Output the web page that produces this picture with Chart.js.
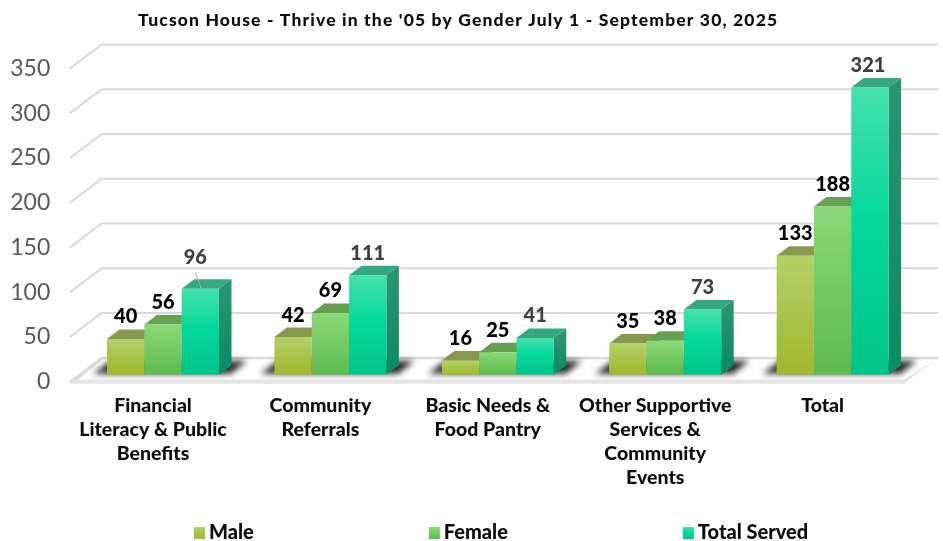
<!DOCTYPE html>
<html>
<head>
<meta charset="utf-8">
<title>Tucson House</title>
<script src="https://cdn.jsdelivr.net/npm/chart.js@4"></script>
<style>
html, body { margin: 0; padding: 0; background: #fff; }
canvas { display: block; }
</style>
</head>
<body>
<canvas id="chart" width="943" height="541"></canvas>
<script>
var titleText = "Tucson House - Thrive in the '05 by Gender July 1 - September 30, 2025";
var categories = [
  ["Financial", "Literacy & Public", "Benefits"],
  ["Community", "Referrals"],
  ["Basic Needs &", "Food Pantry"],
  ["Other Supportive", "Services &", "Community", "Events"],
  ["Total"]
];
var seriesNames = ["Male", "Female", "Total Served"];
var male = [40, 42, 16, 35, 133];
var female = [56, 69, 25, 38, 188];
var totalServed = [96, 111, 41, 73, 321];

var FONT = "Lato";
// light, dark stops for the front face, then top and side colours
var faces = [
  { hi: "#b4cf68", lo: "#9fb82c", top: "#88994e", side: "#6f8320" },
  { hi: "#8cd878", lo: "#5cb94f", top: "#67a052", side: "#478a3c" },
  { hi: "#45e0ab", mid: "#05d89c", lo: "#00c48c", top: "#35a882", side: "#0a8a63" }
];
// labels that sit off the bar centre in the original: dataset:index -> [dx, dy]
var labelNudge = { "2:0": [-5, -9], "2:4": [-2, 0] };
var leaderLabels = { "2:0": 1 };
var greyLabels = { "2:0": 1, "2:1": 1, "2:2": 1, "2:3": 1, "2:4": 1 };

var DEPTH_X = 12.5, DEPTH_Y = 9.5;   // bar extrusion
var WALL_X = 32, WALL_FRONT = 7, WALL_BACK = 17;

function frontGradient(c, face, top, bottom) {
  var g = c.createLinearGradient(0, top, 0, bottom);
  g.addColorStop(0, face.hi);
  if (face.mid) g.addColorStop(0.45, face.mid);
  g.addColorStop(1, face.lo);
  return g;
}

function barColor(i) {
  return function (ctx) {
    var y = ctx.chart.scales.y;
    if (!y || ctx.parsed === undefined || !ctx.chart.chartArea) return faces[i].lo;
    return frontGradient(ctx.chart.ctx, faces[i], y.getPixelForValue(ctx.parsed.y), y.getPixelForValue(0));
  };
}

var scene3d = {
  id: "scene3d",
  afterLayout: function (chart) {
    // the original title is tracked out wider than any installed font
    var t = chart.titleBlock;
    if (t.spaced) return;
    t.spaced = true;
    var drawTitle = t.draw;
    t.draw = function () {
      chart.ctx.letterSpacing = "1.15px";
      drawTitle.apply(t, arguments);
      chart.ctx.letterSpacing = "0px";
    };
  },
  beforeDatasetsDraw: function (chart) {
    var c = chart.ctx, y = chart.scales.y, area = chart.chartArea;
    var x0 = area.left - 9.5, x1 = x0 + WALL_X, xEnd = 938, y0 = y.getPixelForValue(0);

    // walls
    c.save();
    c.strokeStyle = "#d9d9d9";
    c.lineWidth = 2;
    y.ticks.forEach(function (t) {
      var p = y.getPixelForValue(t.value);
      c.beginPath();
      c.moveTo(x0, p + WALL_FRONT);
      c.lineTo(x1, p - WALL_BACK);
      c.lineTo(xEnd, p - WALL_BACK);
      c.stroke();
    });

    // floor edge
    c.fillStyle = "#dcdcdc";
    c.beginPath();
    c.moveTo(x0, y0 + WALL_FRONT - 1);
    c.lineTo(x0 + 837, y0 + WALL_FRONT - 1);
    c.lineTo(xEnd, y0 - WALL_BACK);
    c.lineTo(x1, y0 - WALL_BACK);
    c.closePath();
    c.fill();
    c.fillStyle = "#ffffff";
    c.beginPath();
    c.moveTo(x0 + 8, y0 + WALL_FRONT - 2);
    c.lineTo(x0 + 835, y0 + WALL_FRONT - 2);
    c.lineTo(xEnd - 2, y0 - WALL_BACK + 1.5);
    c.lineTo(x1 + 1, y0 - WALL_BACK + 1.5);
    c.closePath();
    c.fill();
    c.fillStyle = "#e4e4e4";
    c.fillRect(x0, y0 + WALL_FRONT - 1, 837, 3);

    // soft shadow under each group
    var last = chart.getDatasetMeta(2).data, firstBars = chart.getDatasetMeta(0).data;
    c.save();
    c.filter = "blur(3px)";
    c.fillStyle = "#262626";
    last.forEach(function (bar, i) {
      var l = firstBars[i].x - firstBars[i].width / 2, r = bar.x + bar.width / 2;
      c.beginPath();
      c.moveTo(l - 14, y0 - 1);
      c.lineTo(r + 12, y0 - 1);
      c.lineTo(r + 28, y0 - 14);
      c.lineTo(l + 4, y0 - 14);
      c.closePath();
      c.fill();
    });
    c.restore();

    // bar tops and sides
    chart.data.datasets.forEach(function (ds, d) {
      chart.getDatasetMeta(d).data.forEach(function (bar) {
        var l = bar.x - bar.width / 2, r = bar.x + bar.width / 2;
        c.fillStyle = faces[d].top;
        c.beginPath();
        c.moveTo(l, bar.y);
        c.lineTo(l + DEPTH_X, bar.y - DEPTH_Y);
        c.lineTo(r + DEPTH_X, bar.y - DEPTH_Y);
        c.lineTo(r, bar.y);
        c.closePath();
        c.fill();
        var s = c.createLinearGradient(0, bar.y, 0, y0);
        s.addColorStop(0, d === 2 ? "#2a9471" : faces[d].side);
        s.addColorStop(1, faces[d].side);
        c.fillStyle = s;
        c.beginPath();
        c.moveTo(r, bar.y);
        c.lineTo(r + DEPTH_X, bar.y - DEPTH_Y);
        c.lineTo(r + DEPTH_X, y0 - DEPTH_Y);
        c.lineTo(r, y0);
        c.closePath();
        c.fill();
      });
    });
    c.restore();
  },
  afterDatasetsDraw: function (chart) {
    var c = chart.ctx;
    c.save();
    c.font = "900 20px " + FONT;
    c.textAlign = "center";
    c.textBaseline = "middle";
    chart.data.datasets.forEach(function (ds, d) {
      chart.getDatasetMeta(d).data.forEach(function (bar, i) {
        var key = d + ":" + i, n = labelNudge[key] || [0, 0];
        var lx = bar.x + n[0], ly = bar.y - 22 + n[1];
        if (leaderLabels[key]) {
          // leader line from the label down to the bar top
          c.strokeStyle = "#a6a6a6";
          c.lineWidth = 1;
          c.beginPath();
          c.moveTo(lx, ly + 15);
          c.lineTo(lx + 6, bar.y);
          c.stroke();
        }
        c.fillStyle = greyLabels[key] ? "#404040" : "#000000";
        c.fillText(ds.data[i], lx, ly);
      });
    });

    // legend, spread wider than the built-in one allows
    var x = 194, h = 533;
    c.font = "900 20px " + FONT;
    c.textAlign = "left";
    seriesNames.forEach(function (name, i) {
      c.fillStyle = frontGradient(c, faces[i], h - 6, h + 6);
      c.fillRect(x, h - 6, 11, 12);
      c.fillStyle = "#0d0d0d";
      c.fillText(name, x + 15, h);
      x += 15 + c.measureText(name).width + 175;
    });
    c.restore();
  }
};

new Chart(document.getElementById("chart"), {
  type: "bar",
  plugins: [scene3d],
  data: {
    labels: categories,
    datasets: [
      { label: seriesNames[0], data: male, backgroundColor: barColor(0) },
      { label: seriesNames[1], data: female, backgroundColor: barColor(1) },
      { label: seriesNames[2], data: totalServed, backgroundColor: barColor(2) }
    ]
  },
  options: {
    responsive: false,
    animation: false,
    layout: { padding: { top: 0, right: 26.7, bottom: 0, left: 0 } },
    barPercentage: 1,
    categoryPercentage: 0.669,
    plugins: {
      tooltip: { enabled: false },
      legend: { display: false },
      title: {
        display: true,
        text: titleText,
        color: "#0d0d0d",
        font: { family: FONT, size: 17.5, weight: "900", lineHeight: 1.2 },
        padding: { top: 10, bottom: 30.5 }
      }
    },
    scales: {
      x: {
        grid: { display: false },
        border: { display: false },
        afterFit: function (s) { s.height = 166.3; },
        ticks: {
          color: "#0d0d0d",
          maxRotation: 0,
          autoSkip: false,
          labelOffset: -10,
          padding: 11,
          font: { family: FONT, size: 19.5, weight: "900", lineHeight: 1.23 }
        }
      },
      y: {
        min: 0,
        max: 350,
        grid: { display: false },
        border: { display: false },
        afterFit: function (s) { s.width = 79.3; },
        ticks: {
          stepSize: 50,
          color: "#595959",
          padding: 21,
          labelOffset: 7,
          font: { family: FONT, size: 23 }
        }
      }
    }
  }
});
</script>
</body>
</html>
